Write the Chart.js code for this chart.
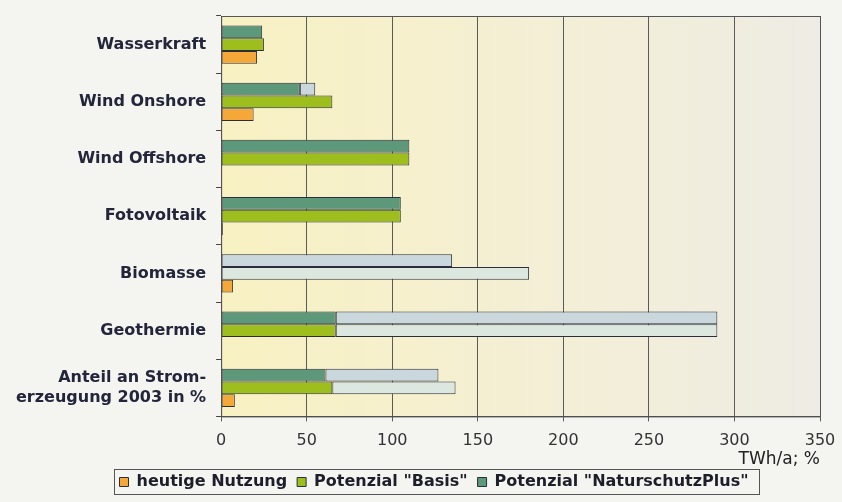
<!DOCTYPE html>
<html>
<head>
<meta charset="utf-8">
<script src="https://cdn.jsdelivr.net/npm/chart.js@4"></script>
<style>
  body { margin: 0; background: #f4f4f1; }
  #wrap { width: 842px; height: 502px; position: relative; }
</style>
</head>
<body>
<div id="wrap"><canvas id="chart"></canvas></div>
<script>
const categories = ["Wasserkraft", "Wind Onshore", "Wind Offshore", "Fotovoltaik", "Biomasse", "Geothermie", ["Anteil an Strom-", "erzeugung 2003 in %"]];

// values (TWh/a; last row in %)
const heutigeNutzung = [21, 19, null, 1, 7, null, 8];
const basis = [25, 65, 110, 105, null, 67, 65];
const basisExtra = [null, null, null, null, 180, 223, 72];
const naturschutz = [24, 46, 110, 105, null, 67, 61];
const naturschutzExtra = [null, 9, null, null, 135, 223, 66];

const tickValues = [0, 50, 100, 150, 200, 250, 300, 350];

const edge = '#2b2f3c';
const font = 'DejaVu Sans, Verdana, sans-serif';

// pale yellow plot background + frame, legend shifted and boxed
const plotBg = {
  id: 'plotBg',
  afterLayout(chart) {
    chart.legend.left += 21;
    chart.legend.right += 21;
    chart.legend.top -= 2;
    chart.legend.bottom -= 2;
  },
  beforeDraw(chart) {
    const { ctx, chartArea: a } = chart;
    const g = ctx.createLinearGradient(a.left, 0, a.right, 0);
    g.addColorStop(0, '#f8f1c2');
    g.addColorStop(0.5, '#f4efd4');
    g.addColorStop(1, '#eeece4');
    ctx.save();
    ctx.fillStyle = g;
    ctx.fillRect(a.left, a.top, a.right - a.left, a.bottom - a.top);
    ctx.restore();
  },
  afterDraw(chart) {
    const { ctx, chartArea: a } = chart;
    ctx.save();
    ctx.strokeStyle = '#555';
    ctx.lineWidth = 1;
    ctx.strokeRect(a.left + 0.5, a.top + 0.5, a.right - a.left, a.bottom - a.top);
    const boxes = chart.legend.legendHitBoxes;
    if (boxes && boxes.length) {
      const l = Math.min(...boxes.map(b => b.left)) - 6;
      const r = Math.max(...boxes.map(b => b.left + b.width)) + 10;
      const t = Math.min(...boxes.map(b => b.top)) - 5;
      const btm = Math.max(...boxes.map(b => b.top + b.height)) + 4;
      ctx.strokeStyle = '#555';
      ctx.strokeRect(Math.round(l) + 0.5, Math.round(t) + 0.5, Math.round(r - l), Math.round(btm - t));
    }
    ctx.restore();
  }
};

const barBase = { borderColor: edge, borderWidth: 1, borderSkipped: false, barPercentage: 1, categoryPercentage: 0.67 };

new Chart(document.getElementById('chart'), {
  type: 'bar',
  data: {
    labels: categories,
    datasets: [
      { ...barBase, label: 'Potenzial "NaturschutzPlus"', data: naturschutz, backgroundColor: '#5c9879', stack: 'np' },
      { ...barBase, label: 'Potenzial "Basis"', data: basis, backgroundColor: '#9dbe1c', stack: 'basis' },
      { ...barBase, label: 'heutige Nutzung', data: heutigeNutzung, backgroundColor: '#f5a838', stack: 'heute' },
      { ...barBase, label: 'np extra', data: naturschutzExtra, backgroundColor: '#cad8de', stack: 'np' },
      { ...barBase, label: 'basis extra', data: basisExtra, backgroundColor: '#dbe7df', stack: 'basis' }
    ]
  },
  options: {
    indexAxis: 'y',
    responsive: true,
    maintainAspectRatio: false,
    animation: false,
    layout: { padding: { top: 16, right: 22, left: 6, bottom: 0 } },
    plugins: {
      legend: {
        position: 'bottom',
        labels: {
          boxWidth: 9,
          boxHeight: 9,
          padding: 10,
          color: '#1e1e2a',
          font: { family: font, size: 16, weight: 'bold' },
          filter: item => !item.text.includes('extra'),
          sort: (a, b) => b.datasetIndex - a.datasetIndex
        }
      },
      tooltip: { enabled: false }
    },
    scales: {
      x: {
        stacked: true,
        min: 0,
        max: 350,
        afterBuildTicks: axis => { axis.ticks = tickValues.map(v => ({ value: v })); },
        afterFit: s => { s.paddingRight = 0; s.paddingLeft = 0; },
        ticks: { color: '#333', padding: 10, font: { family: font, size: 16 } },
        grid: { color: '#5a5a5a', lineWidth: 1, tickLength: 5 },
        border: { color: '#444' },
        title: {
          display: true,
          text: 'TWh/a; %',
          align: 'end',
          color: '#222',
          padding: { top: -11, bottom: -4 },
          font: { family: font, size: 17 }
        }
      },
      y: {
        stacked: true,
        afterFit: s => { s.paddingTop = 0; s.paddingBottom = 0; },
        ticks: { color: '#23263a', padding: 10, font: { family: font, size: 16, weight: 'bold' } },
        grid: { display: true, drawOnChartArea: false, offset: true, color: '#444', tickLength: 5 },
        border: { color: '#444' }
      }
    }
  },
  plugins: [plotBg]
});
</script>
</body>
</html>
